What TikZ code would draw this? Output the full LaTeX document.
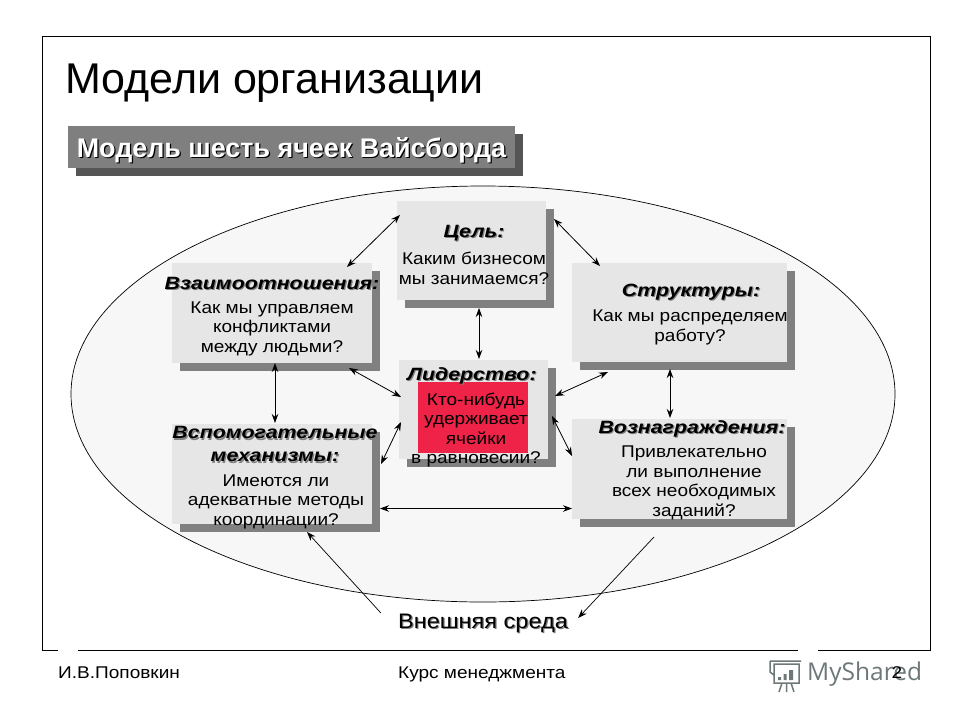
\documentclass[tikz,border=0pt]{standalone}
\usepackage{fontspec}
\setmainfont{Liberation Sans}
\newfontfamily\logofont{Open Sans}
\newfontfamily\widefont[FakeStretch=1.12]{Liberation Sans}
\newfontfamily\headfont[FakeStretch=1.2]{Liberation Sans}
\usetikzlibrary{arrows.meta,shadows,shapes.geometric}
\definecolor{cellfill}{HTML}{E6E6E6}
\definecolor{cellshade}{HTML}{808080}
\definecolor{oval}{HTML}{F7F7F7}
\definecolor{bannerfill}{HTML}{7F7F7F}
\definecolor{bannershade}{HTML}{555555}
\definecolor{alarm}{HTML}{EE2347}
\definecolor{logogray}{HTML}{6E7878}
\newcommand{\softshade}[2]{\leavevmode\rlap{\kern1.2pt\raisebox{-1.2pt}{\textcolor{#1}{#2}}}#2}
\tikzset{
  cell/.style={
    fill=cellfill, inner sep=0pt, outer sep=0pt,
    general shadow={shadow xshift=8pt, shadow yshift=-8pt, fill=cellshade}
  },
  heading/.style={
    align=center, inner sep=1pt, font=\headfont\fontsize{17.8}{23}\selectfont\bfseries\itshape
  },
  question/.style={
    align=center, inner sep=1pt, font=\widefont\fontsize{17}{19.5}\selectfont
  },
  arrow/.style={{Stealth[length=9pt,width=6.5pt]}-{Stealth[length=9pt,width=6.5pt]}, line width=0.8pt},
  onearrow/.style={-{Stealth[length=9pt,width=6.5pt]}, line width=0.7pt},
  footer/.style={inner sep=0pt, font=\widefont\fontsize{17}{20}\selectfont}
}
\begin{document}
\begin{tikzpicture}[x=1pt,y=-1pt]
  \useasboundingbox (0,0) rectangle (960,720);
  \fill[white] (0,0) rectangle (960,720);
  % frame
  \draw[line width=1pt] (58,650) -- (42,650) -- (42,36) -- (930,36) -- (930,650) -- (818,650);
  \draw[line width=1pt] (78,650) -- (798,650);
  \node[anchor=base west, inner sep=0pt, font=\fontsize{43}{44}\selectfont] (title) at (65,93) {Модели организации};
  \node[fill=bannerfill, inner sep=0pt, minimum width=447pt, minimum height=42pt, text=white,
    text height=20pt, text depth=0pt,
    font=\fontsize{26.9}{28}\selectfont\bfseries,
    general shadow={shadow xshift=8pt, shadow yshift=-8pt, fill=bannershade}]
    (banner) at (291.5,147) {\softshade{black}{Модель шесть ячеек Вайсборда}};
  \node[draw, fill=oval, ellipse, inner sep=0pt, minimum width=824pt, minimum height=416pt, line width=0.7pt] (oval) at (483,394) {};
  % cells
  \node[cell, minimum width=149pt, minimum height=99pt] (goal) at (471.5,250.5) {};
  \node[cell, minimum width=200pt, minimum height=100pt] (rel) at (272,313) {};
  \node[cell, minimum width=149pt, minimum height=99pt] (lead) at (473.5,409.5) {};
  \node[cell, minimum width=200pt, minimum height=100pt] (aux) at (272,474) {};
  \node[cell, minimum width=215pt, minimum height=99pt] (struct) at (679.5,312.5) {};
  \node[cell, minimum width=215pt, minimum height=100pt] (reward) at (679.5,469) {};
  \node[fill=alarm, inner sep=0pt, minimum width=110pt, minimum height=71pt] (core) at (473,417.5) {};
  % links
  \draw[arrow] ([shift={(3,14)}]goal.north west) -- ([shift={(75,4)}]rel.north);
  \draw[arrow] ([shift={(8,18)}]goal.north east) -- ([shift={(28,3)}]struct.north west);
  \draw[arrow] ([shift={(7.5,8)}]goal.south) -- ([shift={(5.5,-1)}]lead.north);
  \draw[arrow] ([shift={(77,5)}]rel.south) -- ([shift={(2,-12.5)}]lead.west);
  \draw[arrow] ([shift={(3,0)}]rel.south) -- ([shift={(3,-1)}]aux.north);
  \draw[arrow] ([shift={(2,12.5)}]lead.west) -- ([shift={(9,-10)}]aux.east);
  \draw[arrow] ([shift={(7,-13.5)}]lead.east) -- ([shift={(-71.5,10)}]struct.south);
  \draw[arrow] ([shift={(4,6.5)}]lead.east) -- ([shift={(0,-13)}]reward.west);
  \draw[arrow] ([shift={(-9.5,7)}]struct.south) -- ([shift={(-9.5,-1)}]reward.north);
  \draw[arrow] ([shift={(8,34.5)}]aux.east) -- ([shift={(0,39.5)}]reward.west);
  % texts
  \node[heading] (goalhead) at (474,234) {\softshade{cellshade}{Цель:}};
  \node[question] (goaltext) at (474,268.5) {Каким бизнесом\\мы занимаемся?};
  \node[heading] (relhead) at (272,284) {\softshade{cellshade}{Взаимоотношения:}};
  \node[question] (reltext) at (272,328.5) {Как мы управляем\\конфликтами\\между людьми?};
  \node[heading] (leadhead) at (472,376) {\softshade{cellshade}{Лидерство:}};
  \node[question] (leadtext) at (476,430) {Кто-нибудь\\удерживает\\ячейки\\в равновесии?};
  \node[heading] (auxhead) at (275,445) {\softshade{cellshade}{Вспомогательные}\\\softshade{cellshade}{механизмы:}};
  \node[question] (auxtext) at (276,501.5) {Имеются ли\\адекватные методы\\координации?};
  \node[heading] (structhead) at (691,293) {\softshade{cellshade}{Структуры:}};
  \node[question] (structtext) at (690,327.5) {Как мы распределяем\\работу?};
  \node[heading] (rewardhead) at (692,429) {\softshade{cellshade}{Вознаграждения:}};
  \node[question] (rewardtext) at (694,483) {Привлекательно\\ли выполнение\\всех необходимых\\заданий?};
  \node[inner sep=1pt, font=\widefont\fontsize{21}{24}\selectfont] (env) at (483,624) {\softshade{cellshade}{Внешняя среда}};
  \draw[onearrow] ([shift={(-16,-11)}]env.west) -- ([shift={(35,8)}]aux.south);
  \draw[onearrow] ([shift={(-25.5,18)}]reward.south) -- ([shift={(9,-6)}]env.east);
  % footer
  \node[footer, anchor=base west] (author) at (58,678) {И.В.Поповкин};
  \node[footer, anchor=base west] (course) at (398,678) {Курс менеджмента};
  % logo
  \draw[logogray, line width=1.5pt] (770,661) -- (801,661) (774,664) rectangle (799,683)
    (770,661) -- (770,672) -- (774,675)
    (782,683) -- (779,692) (786.5,683) -- (786.5,692) (791,683) -- (794,692);
  \fill[logogray] (778,677) rectangle (781,680) (783.5,674) rectangle (786.5,680) (789,670) rectangle (793,680);
  \node[anchor=west, inner sep=0pt, text=logogray, font=\logofont\fontsize{24.5}{28}\selectfont] (logo) at (807,674) {MyShared};
  \node[footer, anchor=base] (page) at (897,678) {2};
\end{tikzpicture}
\end{document}
